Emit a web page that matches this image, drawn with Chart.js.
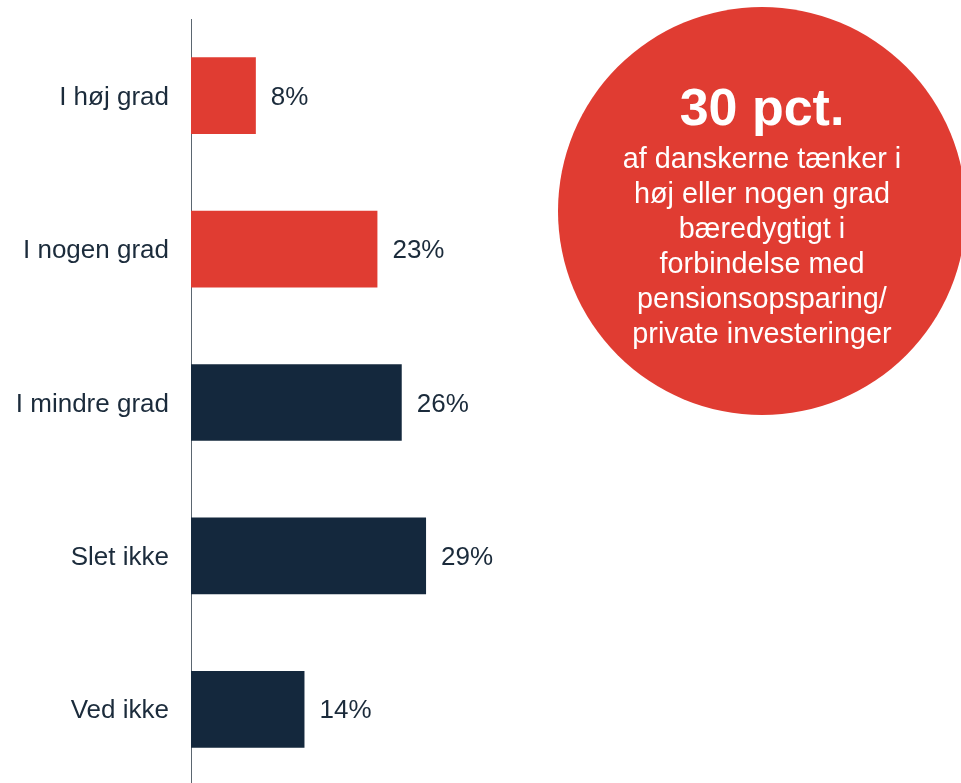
<!DOCTYPE html>
<html>
<head>
<meta charset="utf-8">
<script src="https://cdn.jsdelivr.net/npm/chart.js@4"></script>
<style>
	html, body { margin: 0; padding: 0; background: #fff; overflow: hidden; }
	#wrap { position: relative; width: 961px; height: 786px; }
	#circle {
		position: absolute; left: 558px; top: 7px; width: 408px; height: 408px;
		border-radius: 50%; background: #e03c32; color: #fff; text-align: center;
		font-family: "Liberation Sans", Arial, sans-serif;
	}
	#circle .big { position: absolute; left: 0; right: 0; top: 70px; font-size: 52px; font-weight: bold; line-height: 60px; }
	#circle .small { position: absolute; left: 0; right: 0; top: 134px; font-size: 28.8px; line-height: 35px; }
</style>
</head>
<body>
<div id="wrap">
	<canvas id="chart" width="961" height="786"></canvas>
	<div id="circle">
		<div class="big">30 pct.</div>
		<div class="small">af danskerne tænker i<br>høj eller nogen grad<br>bæredygtigt i<br>forbindelse med<br>pensionsopsparing/<br>private investeringer</div>
	</div>
</div>
<script>
const categories = ['I høj grad', 'I nogen grad', 'I mindre grad', 'Slet ikke', 'Ved ikke'];
const values = [8, 23, 26, 29, 14];
const valueLabels = ['8%', '23%', '26%', '29%', '14%'];

const redColor = '#e03c32', navyColor = '#14283d', textColor = '#1b2b3b';
const barColors = [redColor, redColor, navyColor, navyColor, navyColor];

Chart.defaults.font.family = '"Liberation Sans", Arial, sans-serif';

const valueLabelPlugin = {
	id: 'valueLabels',
	afterDatasetsDraw(chart) {
		const { ctx } = chart;
		const meta = chart.getDatasetMeta(0);
		ctx.save();
		ctx.font = '26px "Liberation Sans", Arial, sans-serif';
		ctx.fillStyle = textColor;
		ctx.textAlign = 'left';
		ctx.textBaseline = 'middle';
		meta.data.forEach((bar, i) => {
			ctx.fillText(valueLabels[i], bar.x + 15, bar.y + 2);
		});
		ctx.restore();
	}
};

new Chart(document.getElementById('chart'), {
	type: 'bar',
	data: {
		labels: categories,
		datasets: [{
			data: values,
			backgroundColor: barColors,
			barPercentage: 0.5,
			categoryPercentage: 1
		}]
	},
	options: {
		indexAxis: 'y',
		responsive: false,
		animation: false,
		layout: { padding: { top: 19, left: 0, right: 0, bottom: 0 } },
		plugins: {
			legend: { display: false },
			tooltip: { enabled: false }
		},
		scales: {
			x: {
				display: false,
				min: 0,
				max: 95
			},
			y: {
				grid: { display: false, drawTicks: false },
				border: { display: true, color: '#5b6670', width: 1 },
				ticks: {
					color: textColor,
					font: { size: 26 },
					padding: 22,
					labelOffset: 2
				},
				afterFit: (scale) => {
					// fixed axis width, no extra room for first/last label
					scale.width = 191;
					scale.paddingTop = 0;
					scale.paddingBottom = 0;
				}
			}
		}
	},
	plugins: [valueLabelPlugin]
});
</script>
</body>
</html>
